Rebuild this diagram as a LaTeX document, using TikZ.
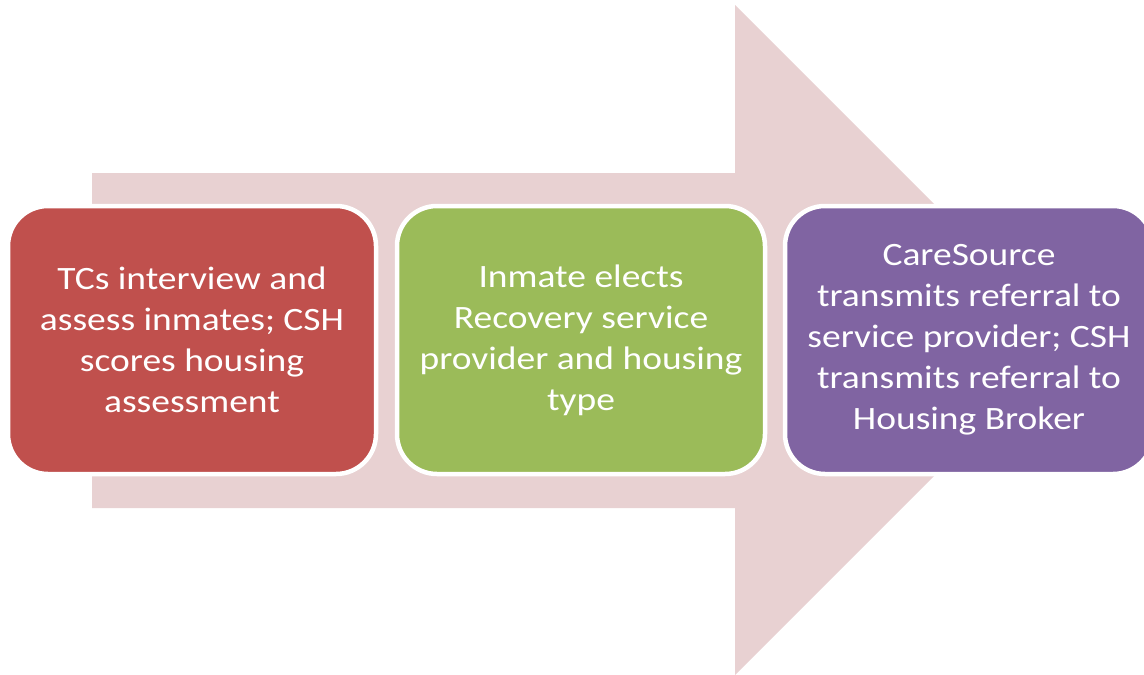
\documentclass[tikz,border=0pt]{standalone}
\usepackage{fontspec}
\setmainfont{Carlito}[FakeStretch=1.15]
\usepackage{tikz}
\definecolor{arrowpink}{HTML}{E8D1D2}
\definecolor{stepred}{HTML}{C0504D}
\definecolor{stepgreen}{HTML}{9BBB59}
\definecolor{steppurple}{HTML}{8064A2}
\tikzset{
  stepbox/.style = {align=center, rounded corners=40pt, draw=white,
    line width=4.5pt, text=white, minimum width=368pt, minimum height=268pt,
    font=\fontsize{32.6}{41}\selectfont},
  step_r/.style = {stepbox, fill=stepred},% first step
  step_g/.style = {stepbox, fill=stepgreen},% second step
  step_p/.style = {stepbox, fill=steppurple}% third step
}

\begin{document}
\begin{tikzpicture}[x=1pt, y=-1pt]
	\useasboundingbox (0,0) rectangle (1144,675);
	% big background arrow
	\fill[arrowpink] (92,173) -- (735,173) -- (735,5) -- (1070,340)
		-- (735,675) -- (735,508) -- (92,508) -- cycle;
	\node [step_r] (interview) at (192,340)
		{TCs interview and\\assess inmates; CSH\\scores housing\\assessment};
	\node [step_g] (elect) at (581,340)
		{Inmate elects\\Recovery service\\provider and housing\\type};
	\node [step_p] (transmit) at (969,340)
		{CareSource\\transmits referral to\\service provider; CSH\\transmits referral to\\Housing Broker};
\end{tikzpicture}
\end{document}
